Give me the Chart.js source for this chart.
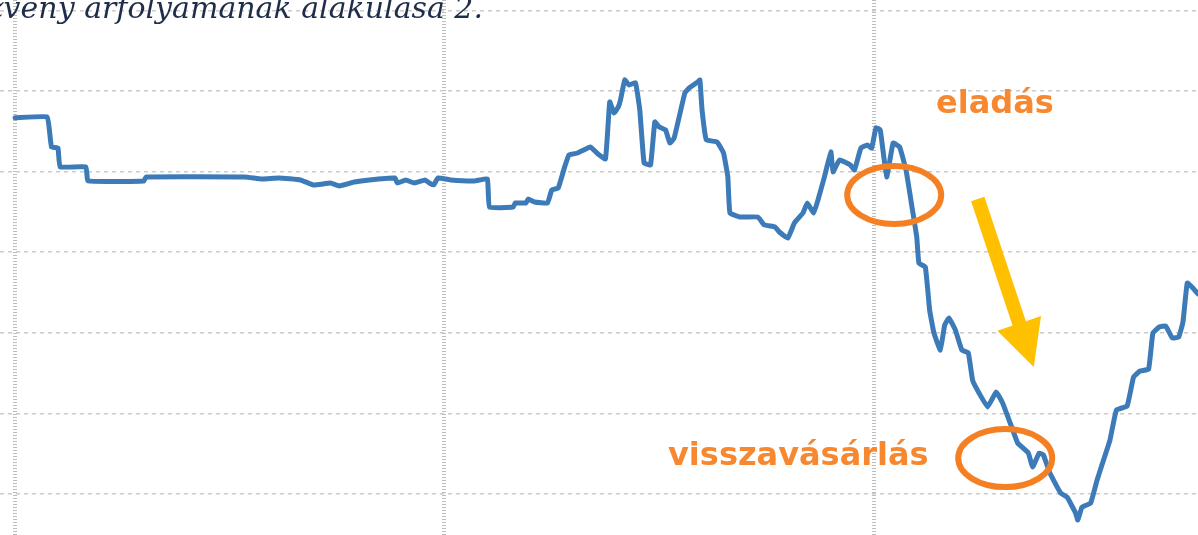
<!DOCTYPE html>
<html lang="hu">
<head>
<meta charset="utf-8">
<title>Részvény árfolyamának alakulása 2.</title>
<script src="https://cdn.jsdelivr.net/npm/chart.js@4"></script>
<style>
    html, body {
        margin: 0;
        padding: 0;
        background: #ffffff;
        overflow: hidden;
    }
    #wrap {
        position: relative;
        width: 1198px;
        height: 535px;
    }
    #title {
        position: absolute;
        right: calc(1198px - 483px);
        top: -7px;
        font-family: "DejaVu Serif", serif;
        font-style: italic;
        font-size: 30px;
        line-height: 1;
        color: #1f2d4a;
        white-space: nowrap;
        z-index: 2;
    }
    .label {
        position: absolute;
        font-family: "DejaVu Sans", sans-serif;
        font-weight: bold;
        font-size: 32px;
        line-height: 1;
        color: #f7882f;
        white-space: nowrap;
        z-index: 2;
    }
</style>
</head>
<body>
<div id="wrap">
    <canvas id="priceChart"></canvas>
    <div id="title">részvény árfolyamának alakulása 2.</div>
    <div class="label" style="left: 936px; top: 86px;">eladás</div>
    <div class="label" style="left: 668px; top: 438px;">visszavásárlás</div>
</div>

<script>
// ===== DATA =====
// trading day index
const days = [
    0, 15, 16, 17, 20, 21, 33, 34, 60, 61, 107, 115, 123, 133, 139, 147, 151, 158, 165, 177,
    178, 182, 186, 191, 193, 195, 197, 203, 214, 220, 221, 232, 233, 238, 239, 242, 248, 250, 253, 256,
    258, 262, 268, 271, 275, 277, 279, 281, 282, 284, 286, 289, 291, 293, 296, 298, 300, 303, 305, 307,
    312, 314, 318, 319, 320, 322, 327, 330, 332, 333, 338, 346, 349, 354, 356, 360, 363, 367, 369, 372,
    374, 377, 380, 381, 384, 389, 391, 394, 397, 399, 401, 403, 406, 409, 412, 415, 418, 420, 421, 424,
    426, 428, 431, 433, 435, 438, 441, 444, 446, 449, 453, 457, 460, 463, 467, 469, 472, 474, 477, 479,
    482, 487, 490, 494, 495, 497, 501, 504, 507, 510, 513, 518, 521, 524, 528, 530, 533, 536, 539, 542,
    544, 546, 549, 551
];

// closing price
const prices = [
    5333, 5339, 5258, 5153, 5146, 5029, 5029, 4942, 4942, 4967, 4967, 4954, 4960, 4948, 4917, 4929, 4911, 4935, 4948, 4960,
    4929, 4948, 4929, 4948, 4929, 4917, 4960, 4948, 4942, 4954, 4780, 4780, 4805, 4805, 4830, 4811, 4805, 4886, 4898, 5029,
    5103, 5115, 5153, 5115, 5078, 5432, 5363, 5401, 5444, 5568, 5537, 5550, 5382, 5053, 5041, 5308, 5277, 5258, 5177, 5208,
    5488, 5519, 5556, 5568, 5382, 5196, 5184, 5115, 4967, 4743, 4718, 4718, 4669, 4656, 4625, 4588, 4681, 4743, 4805, 4743,
    4824, 4967, 5122, 4998, 5072, 5041, 5010, 5146, 5165, 5146, 5271, 5258, 4967, 5177, 5153, 5010, 4762, 4594, 4433, 4408,
    4141, 3999, 3893, 4048, 4092, 4017, 3893, 3875, 3707, 3627, 3540, 3633, 3565, 3459, 3316, 3292, 3254, 3167, 3254, 3242,
    3130, 3006, 2981, 2882, 2839, 2919, 2944, 3087, 3211, 3335, 3521, 3546, 3726, 3763, 3775, 3999, 4036, 4042, 3968, 3974,
    4067, 4309, 4272, 4241
];

const xTicks = [0, 200, 400];
const yTicks = [3000, 3500, 4000, 4500, 5000, 5500, 6000];

// sell / buy-back marks (day, price)
const sellMark = { day: 409.5, price: 4855 };
const buyMark = { day: 461.2, price: 3223 };
const arrowFrom = { day: 448.4, price: 4830 };
const arrowTo = { day: 474.5, price: 3788 };

// ===== ANNOTATION PLUGIN =====
const markPlugin = {
    id: 'marks',
    afterDatasetsDraw(chart) {
        const ctx = chart.ctx;
        const x = chart.scales.x;
        const y = chart.scales.y;

        // orange ellipses
        ctx.save();
        ctx.strokeStyle = '#f58024';
        ctx.lineWidth = 6;
        [sellMark, buyMark].forEach(m => {
            ctx.beginPath();
            ctx.ellipse(x.getPixelForValue(m.day), y.getPixelForValue(m.price), 47, 29, 0, 0, Math.PI * 2);
            ctx.stroke();
        });

        // yellow arrow
        const x1 = x.getPixelForValue(arrowFrom.day);
        const y1 = y.getPixelForValue(arrowFrom.price);
        const x2 = x.getPixelForValue(arrowTo.day);
        const y2 = y.getPixelForValue(arrowTo.price);
        const len = Math.hypot(x2 - x1, y2 - y1);
        const ux = (x2 - x1) / len, uy = (y2 - y1) / len;
        const nx = -uy, ny = ux;
        const headLen = 46, headHalf = 23, shaftHalf = 7;
        const bx = x2 - ux * headLen, by = y2 - uy * headLen;

        ctx.fillStyle = '#ffc000';
        ctx.beginPath();
        ctx.moveTo(x1 + nx * shaftHalf, y1 + ny * shaftHalf);
        ctx.lineTo(bx + nx * shaftHalf, by + ny * shaftHalf);
        ctx.lineTo(bx + nx * headHalf, by + ny * headHalf);
        ctx.lineTo(x2, y2);
        ctx.lineTo(bx - nx * headHalf, by - ny * headHalf);
        ctx.lineTo(bx - nx * shaftHalf, by - ny * shaftHalf);
        ctx.lineTo(x1 - nx * shaftHalf, y1 - ny * shaftHalf);
        ctx.closePath();
        ctx.fill();
        ctx.restore();
    }
};

// ===== CHART =====
function initializeChart() {
    const ctx = document.getElementById('priceChart');

    new Chart(ctx, {
        type: 'line',
        data: {
            datasets: [{
                data: days.map((d, i) => ({ x: d, y: prices[i] })),
                borderColor: '#3c7bb8',
                borderWidth: 5,
                borderJoinStyle: 'round',
                borderCapStyle: 'round',
                pointRadius: 0,
                tension: 0.1,
                fill: false
            }]
        },
        options: {
            responsive: true,
            maintainAspectRatio: false,
            animation: false,
            layout: { padding: 0 },
            plugins: {
                legend: { display: false },
                tooltip: { enabled: false }
            },
            scales: {
                x: {
                    type: 'linear',
                    min: -7,
                    max: 551,
                    afterBuildTicks: axis => {
                        axis.ticks = xTicks.map(v => ({ value: v }));
                    },
                    ticks: { display: false },
                    border: { display: false, dash: [1, 2] },
                    grid: {
                        color: '#bdbdbd',
                        lineWidth: 4,
                        drawTicks: false
                    }
                },
                y: {
                    type: 'linear',
                    min: 2746,
                    max: 6064,
                    afterBuildTicks: axis => {
                        axis.ticks = yTicks.map(v => ({ value: v }));
                    },
                    ticks: { display: false },
                    border: { display: false, dash: [4, 4] },
                    grid: {
                        color: '#cbcbcb',
                        lineWidth: 1.5,
                        drawTicks: false
                    }
                }
            }
        },
        plugins: [markPlugin]
    });
}

document.addEventListener('DOMContentLoaded', function() {
    initializeChart();
});
</script>
</body>
</html>
